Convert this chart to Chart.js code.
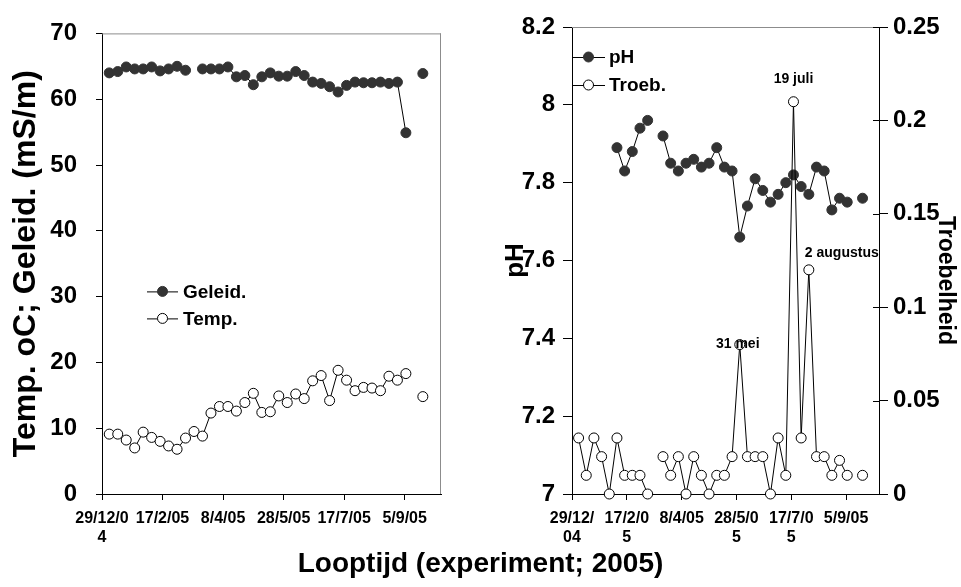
<!DOCTYPE html>
<html>
<head>
<meta charset="utf-8">
<script src="https://cdn.jsdelivr.net/npm/chart.js@4/dist/chart.umd.min.js"></script>
<style>
  body { margin: 0; background: #fff; }
  #wrap { position: relative; width: 961px; height: 587px; overflow: hidden; }
  #leftBox { position: absolute; left: 0; top: 0; }
  #rightBox { position: absolute; left: 480px; top: 0; }
  #xTitle {
    position: absolute; left: 0; top: 549px; width: 961px;
    text-align: center; font: bold 28px 'Liberation Sans', Arial, sans-serif;
    line-height: 28px; color: #000;
  }
</style>
</head>
<body>
<div id="wrap">
  <div id="leftBox"><canvas id="leftChart" width="480" height="560"></canvas></div>
  <div id="rightBox"><canvas id="rightChart" width="481" height="560"></canvas></div>
  <div id="xTitle">Looptijd (experiment; 2005)</div>
</div>
<script>
// --- data ---
const startDate = '29/12/04';
const tickLabels = ['29/12/04', '17/2/05', '8/4/05', '28/5/05', '17/7/05', '5/9/05'];

const sampleDates = ['4/1/05', '11/1/05', '18/1/05', '25/1/05', '1/2/05', '8/2/05', '15/2/05', '22/2/05',
  '1/3/05', '8/3/05', '15/3/05', '22/3/05', '29/3/05', '5/4/05', '12/4/05', '19/4/05', '26/4/05',
  '3/5/05', '10/5/05', '17/5/05', '24/5/05', '31/5/05', '7/6/05', '14/6/05', '21/6/05', '28/6/05',
  '5/7/05', '12/7/05', '19/7/05', '26/7/05', '2/8/05', '9/8/05', '16/8/05', '23/8/05', '30/8/05',
  '6/9/05', '13/9/05', '20/9/05'];

const geleid = [64.0, 64.2, 64.9, 64.6, 64.6, 64.9, 64.3, 64.6, 65.0, 64.4, null, 64.6, 64.6, 64.6,
  64.9, 63.4, 63.6, 62.2, 63.4, 64.0, 63.5, 63.5, 64.2, 63.6, 62.6, 62.4, 61.9, 61.1, 62.1, 62.6,
  62.5, 62.5, 62.6, 62.4, 62.6, 54.9, null, 63.9];
const temp = [9.1, 9.1, 8.2, 7.0, 9.4, 8.6, 8.0, 7.3, 6.8, 8.5, 9.5, 8.8, 12.3, 13.3, 13.3, 12.6,
  13.9, 15.3, 12.4, 12.5, 14.9, 13.9, 15.2, 14.5, 17.2, 18.0, 14.2, 18.8, 17.3, 15.7, 16.2, 16.1,
  15.7, 17.9, 17.3, 18.3, null, 14.8];
const ph = [null, null, null, null, null, 7.89, 7.83, 7.88, 7.94, 7.96, null, 7.92, 7.85, 7.83,
  7.85, 7.86, 7.84, 7.85, 7.89, 7.84, 7.83, 7.66, 7.74, 7.81, 7.78, 7.75, 7.77, 7.80, 7.82, 7.79,
  7.77, 7.84, 7.83, 7.73, 7.76, 7.75, null, 7.76];
const troeb = [0.03, 0.01, 0.03, 0.02, 0, 0.03, 0.01, 0.01, 0.01, 0, null, 0.02, 0.01, 0.02, 0,
  0.02, 0.01, 0, 0.01, 0.01, 0.02, 0.08, 0.02, 0.02, 0.02, 0, 0.03, 0.01, 0.21, 0.03, 0.12, 0.02,
  0.02, 0.01, 0.018, 0.01, null, 0.01];

const noteDates = ['31/5/05', '19/7/05', '2/8/05'];
const noteTexts = ['31 mei', '19 juli', '2 augustus'];

// --- helpers ---
function dayOf(s) {
  const [d, m, y] = s.split('/').map(Number);
  const [d0, m0, y0] = startDate.split('/').map(Number);
  return (Date.UTC(2000 + y, m - 1, d) - Date.UTC(2000 + y0, m0 - 1, d0)) / 86400000;
}
const sampleDays = sampleDates.map(dayOf);
const tickDays = tickLabels.map(dayOf);
const toPoints = vals => sampleDays.map((x, i) => ({ x: x, y: vals[i] }));

// Excel wrapped the date labels at the column width
function wrapLabel(s, n) {
  return s.length > n ? [s.slice(0, n), s.slice(n)] : s;
}
// plain number, no trailing zeros (8 not 8.0, 0.2 not 0.20)
const plain = v => String(+Number(v).toFixed(3));

const FONT = "'Liberation Sans', Arial, sans-serif";
Chart.defaults.font.family = FONT;
Chart.defaults.color = '#000';

// gray frame lines + inward half of cross ticks
const framePlugin = {
  id: 'frame',
  beforeDatasetsDraw(chart, args, opts) {
    const { ctx, chartArea: a } = chart;
    ctx.save();
    ctx.lineWidth = 1;
    ctx.strokeStyle = opts.color;
    ctx.beginPath();
    ctx.moveTo(a.left, a.top + 0.5);
    ctx.lineTo(a.right, a.top + 0.5);
    if (opts.right) {
      ctx.moveTo(a.right - 0.5, a.top);
      ctx.lineTo(a.right - 0.5, a.bottom);
    }
    ctx.stroke();
    ctx.strokeStyle = '#000';
    (opts.innerTicks || []).forEach(id => {
      const s = chart.scales[id];
      ctx.beginPath();
      s.ticks.forEach(t => {
        const y = Math.round(s.getPixelForValue(t.value)) + 0.5;
        ctx.moveTo(s.left - opts.innerLen, y);
        ctx.lineTo(s.left, y);
      });
      ctx.stroke();
    });
    ctx.restore();
  }
};

// legend drawn inside the plot like the Excel original
const keyPlugin = {
  id: 'key',
  afterDatasetsDraw(chart, args, opts) {
    const { ctx, chartArea: a } = chart;
    ctx.save();
    ctx.font = 'bold ' + opts.size + 'px ' + FONT;
    ctx.textBaseline = 'middle';
    ctx.fillStyle = '#000';
    opts.items.forEach((dsIndex, i) => {
      const ds = chart.data.datasets[dsIndex];
      const x0 = a.left + opts.left;
      const y = a.top + opts.top + i * opts.gap;
      ctx.strokeStyle = ds.borderColor;
      ctx.lineWidth = 1;
      ctx.beginPath();
      ctx.moveTo(x0, y + 0.5);
      ctx.lineTo(x0 + opts.len, y + 0.5);
      ctx.stroke();
      ctx.beginPath();
      ctx.arc(x0 + opts.len / 2, y, ds.pointRadius, 0, Math.PI * 2);
      ctx.fillStyle = ds.pointBackgroundColor;
      ctx.fill();
      ctx.strokeStyle = ds.pointBorderColor;
      ctx.stroke();
      ctx.fillStyle = '#000';
      ctx.fillText(ds.label, x0 + opts.len + opts.textGap, y + 1);
    });
    ctx.restore();
  }
};

// date notes next to the turbidity peaks + the right axis title (sits a bit low in the original)
const notePlugin = {
  id: 'notes',
  afterDatasetsDraw(chart, args, opts) {
    const { ctx, chartArea: a } = chart;
    const meta = chart.getDatasetMeta(opts.dataset);
    ctx.save();
    ctx.font = 'bold ' + opts.size + 'px ' + FONT;
    ctx.textBaseline = 'middle';
    ctx.fillStyle = '#000';
    opts.items.forEach(n => {
      const el = meta.data[n.index];
      ctx.textAlign = n.align;
      ctx.fillText(n.text, el.x + n.dx, el.y + n.dy);
    });
    if (opts.sideTitle) {
      const t = opts.sideTitle;
      const s = chart.scales[t.scale];
      ctx.font = 'bold ' + t.size + 'px ' + FONT;
      ctx.textAlign = 'center';
      ctx.translate(s.right - t.inset, (a.top + a.bottom) / 2 + t.shift);
      ctx.rotate(Math.PI / 2);
      ctx.fillText(t.text, 0, 0);
    }
    ctx.restore();
  }
};

function xScale(wrapAt) {
  return {
    type: 'linear', min: 0, max: 280,
    afterBuildTicks: s => { s.ticks = tickDays.map(v => ({ value: v })); },
    afterFit: s => { s.height = 66; },
    border: { color: '#000', width: 1 },
    grid: { drawOnChartArea: false, tickLength: 6, color: '#000' },
    ticks: {
      autoSkip: false, maxRotation: 0, padding: 9,
      font: { size: 16, weight: 'bold' },
      callback: v => wrapLabel(tickLabels[tickDays.indexOf(v)] || '', wrapAt)
    }
  };
}

function lineSet(label, vals, filled, extra) {
  return Object.assign({
    label: label,
    data: toPoints(vals),
    borderColor: '#000',
    borderWidth: 1,
    pointRadius: 5,
    pointHoverRadius: 5,
    pointBorderWidth: 1,
    pointBackgroundColor: filled ? '#333333' : '#ffffff',
    pointBorderColor: filled ? '#333333' : '#000000',
    spanGaps: false,
    tension: 0,
    clip: false
  }, extra || {});
}

// --- left panel: conductivity and temperature ---
new Chart(document.getElementById('leftChart'), {
  type: 'line',
  data: {
    datasets: [
      lineSet('Geleid.', geleid, true),
      lineSet('Temp.', temp, false)
    ]
  },
  options: {
    responsive: false,
    animation: false,
    events: [],
    layout: { padding: { top: 22, right: 39, left: 0, bottom: 0 } },
    plugins: {
      legend: { display: false },
      tooltip: { enabled: false },
      frame: { color: '#8c8c8c', right: true },
      key: { items: [0, 1], left: 45, top: 258, gap: 27, len: 31, textGap: 5, size: 19 }
    },
    scales: {
      x: xScale(7),
      y: {
        min: 0, max: 70,
        afterFit: s => { s.width = 102; },
        border: { color: '#000', width: 1 },
        grid: { drawOnChartArea: false, tickLength: 6, color: '#000' },
        ticks: { stepSize: 10, padding: 19, font: { size: 24, weight: 'bold' }, callback: plain },
        title: {
          display: true, text: 'Temp. oC; Geleid. (mS/m)',
          font: { size: 32, weight: 'bold', lineHeight: 1.2 },
          padding: { top: 7, bottom: 0 }
        }
      }
    }
  },
  plugins: [framePlugin, keyPlugin]
});

// --- right panel: pH and turbidity ---
new Chart(document.getElementById('rightChart'), {
  type: 'line',
  data: {
    datasets: [
      lineSet('pH', ph, true, { yAxisID: 'y', order: 1 }),
      lineSet('Troeb.', troeb, false, { yAxisID: 'y1', order: 0 })
    ]
  },
  options: {
    responsive: false,
    animation: false,
    events: [],
    layout: { padding: { top: 27, right: 0, left: 0, bottom: 0 } },
    plugins: {
      legend: { display: false },
      tooltip: { enabled: false },
      frame: { color: '#8c8c8c', right: false, innerTicks: ['y1'], innerLen: 6 },
      key: { items: [0, 1], left: 0, top: 30, gap: 28, len: 33, textGap: 4, size: 19 },
      notes: {
        dataset: 1, size: 14,
        items: noteDates.map((d, i) => ({
          index: sampleDates.indexOf(d),
          text: noteTexts[i],
          align: [ 'center', 'center', 'left' ][i],
          dx: [ -2, 0, -4 ][i],
          dy: [ 0, -23, -17 ][i]
        })),
        sideTitle: { scale: 'y1', text: 'Troebelheid', size: 23, inset: 16, shift: 20 }
      }
    },
    scales: {
      x: xScale(6),
      y: {
        position: 'left',
        min: 7, max: 8.2,
        afterFit: s => { s.width = 92; },
        border: { color: '#000', width: 1 },
        grid: { drawOnChartArea: false, tickLength: 9, color: '#000' },
        ticks: { stepSize: 0.2, padding: 8, font: { size: 24, weight: 'bold' }, callback: plain },
        title: {
          display: true, text: 'pH',
          font: { size: 26, weight: 'bold', lineHeight: 1.2 },
          padding: { top: 20, bottom: 0 }
        }
      },
      y1: {
        position: 'right',
        min: 0, max: 0.25,
        afterFit: s => { s.width = 82; },
        border: { color: '#000', width: 1 },
        grid: { drawOnChartArea: false, tickLength: 9, color: '#000' },
        ticks: { stepSize: 0.05, padding: 5, font: { size: 24, weight: 'bold' }, callback: plain }
      }
    }
  },
  plugins: [framePlugin, keyPlugin, notePlugin]
});
</script>
</body>
</html>
